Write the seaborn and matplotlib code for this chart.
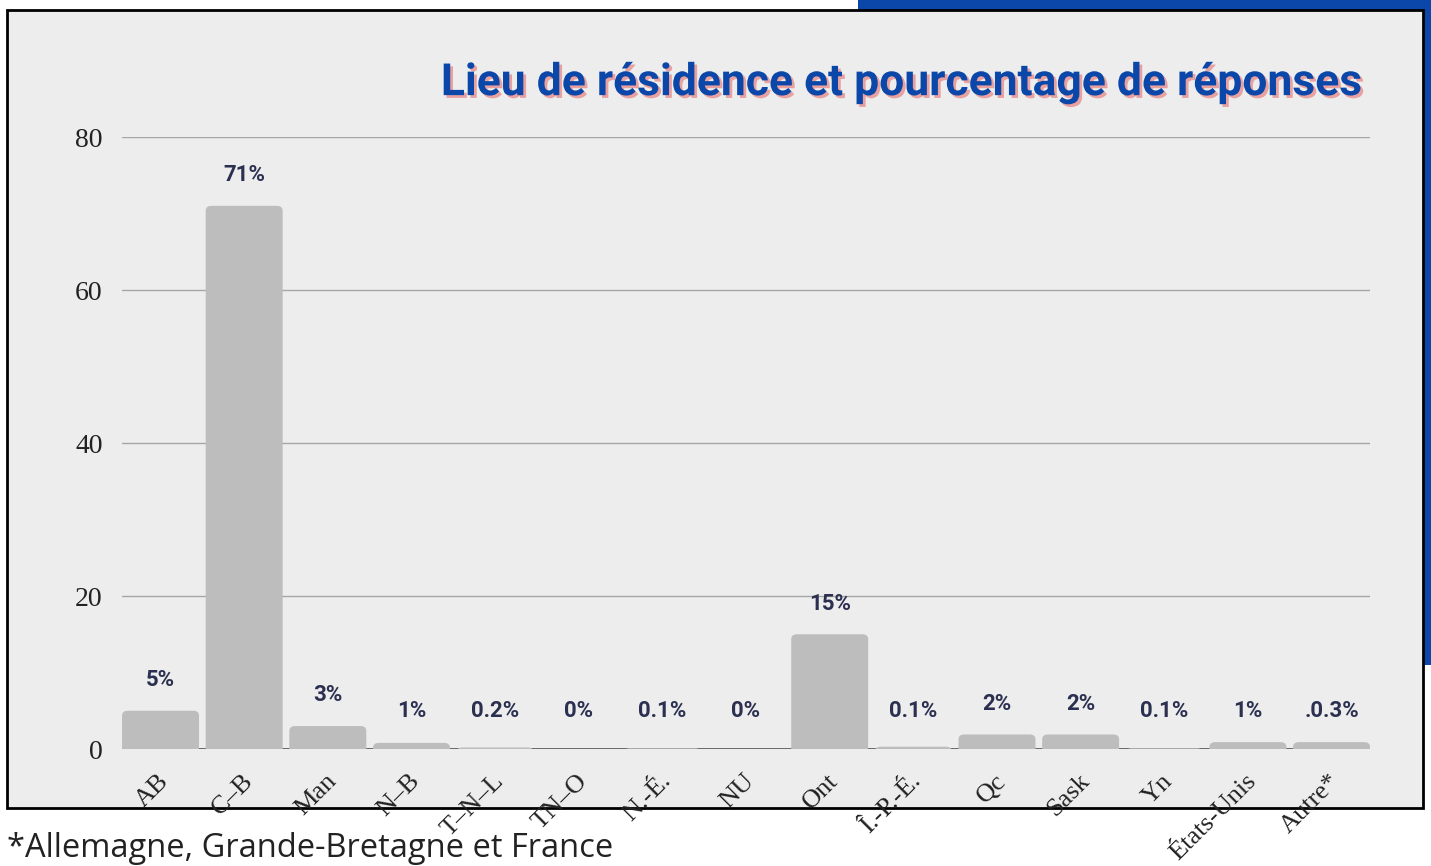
import numpy as np
import pandas as pd
import matplotlib as mpl
mpl.use("Agg")
import matplotlib.pyplot as plt
import matplotlib.patheffects as pe
import matplotlib.transforms as mtrans
from matplotlib.patches import Rectangle, FancyBboxPatch
import seaborn as sns

regions = ["AB", "C–B", "Man", "N–B", "T–N–L", "TN–O", "N.-É.", "NU", "Ont",
           "Î.-P.-É.", "Qc", "Sask", "Yn", "États-Unis", "Autre*"]
bar_values = [5, 71, 3, 0.8, 0.2, 0, 0.1, 0, 15, 0.3, 1.9, 1.9, 0.1, 0.9, 0.9]
bar_labels = ["5%", "71%", "3%", "1%", "0.2%", "0%", "0.1%", "0%", "15%",
              "0.1%", "2%", "2%", "0.1%", "1%", ".0.3%"]
y_ticks = [0, 20, 40, 60, 80]

title = "Lieu de résidence et pourcentage de réponses"
footnote = "*Allemagne, Grande-Bretagne et France"


def init_style():
    sns.set_theme(style="white")
    plt.rcParams["font.family"] = ["Open Sans", "DejaVu Sans"]


init_style()
df = pd.DataFrame({"region": regions, "value": bar_values})

fig = plt.figure(figsize=(14.31, 8.66), dpi=100)
fig.patch.set_facecolor("white")

# blue block behind the panel, then the grey panel with black border
fig.add_artist(Rectangle((0.5996, 0.2321), 0.41, 0.78, transform=fig.transFigure,
                         facecolor="#0a47a8", edgecolor="none", zorder=0))
fig.add_artist(Rectangle((0.0049, 0.0670), 0.9895, 0.9215, transform=fig.transFigure,
                         facecolor="#ededed", edgecolor="black", linewidth=2, zorder=1))

ax = fig.add_axes([0.0853, 0.1351, 0.8721, 0.7067], zorder=2)
ax.set_facecolor("none")

sns.barplot(data=df, x="region", y="value", color="#bdbdbd", saturation=1,
            width=0.92, ax=ax, zorder=3, edgecolor="none", linewidth=0)

ax.set_xlim(-0.46, len(regions) - 0.54)
ax.set_ylim(0, 80)

# swap plain bars for ones with slightly rounded tops
for p in list(ax.patches):
    x, w, h = p.get_x(), p.get_width(), p.get_height()
    p.remove()
    ax.add_patch(FancyBboxPatch((x, -1), w, h + 1,
                                boxstyle="round,pad=0,rounding_size=0.07",
                                mutation_aspect=9, facecolor="#bdbdbd",
                                edgecolor="none", zorder=3, clip_on=True))

ax.set_yticks(y_ticks)
ax.yaxis.grid(True, color="#a6a6a6", linewidth=1)
ax.set_axisbelow(True)
ax.axhline(0, color="#555555", linewidth=1.2, zorder=2)
for s in ax.spines.values():
    s.set_visible(False)
ax.set_xlabel("")
ax.set_ylabel("")
ax.tick_params(axis="y", length=0, pad=14, labelsize=20, labelcolor="#222222")
ax.tick_params(axis="x", length=0, pad=15, labelsize=19, labelcolor="#222222")
for lab in ax.get_yticklabels():
    lab.set_family("Liberation Serif")
shift = mtrans.ScaledTranslation(0.13, 0, fig.dpi_scale_trans)
for lab in ax.get_xticklabels():
    lab.set_family("Liberation Serif")
    lab.set_rotation(45)
    lab.set_ha("right")
    lab.set_va("top")
    lab.set_transform(lab.get_transform() + shift)

for i, (v, txt) in enumerate(zip(bar_values, bar_labels)):
    ax.annotate(txt, (i, max(v, 1)), xytext=(0, 22), textcoords="offset points",
                ha="center", va="center", fontsize=16, fontweight="bold",
                color="#2b3050", family=["Roboto", "DejaVu Sans"])

fig.text(0.953, 0.904, title, ha="right", va="center", fontsize=32,
         fontweight="bold", color="#0a47a8",
         family=["Roboto", "DejaVu Sans"],
         path_effects=[pe.withSimplePatchShadow(offset=(2, -2),
                                                shadow_rgbFace="#e8a0a0", alpha=1)],
         zorder=3)

fig.text(0.005, 0.020, footnote, ha="left", va="center", fontsize=23.5,
         color="#222222", family=["Open Sans", "DejaVu Sans"])

fig.savefig("out.png", dpi=100)
